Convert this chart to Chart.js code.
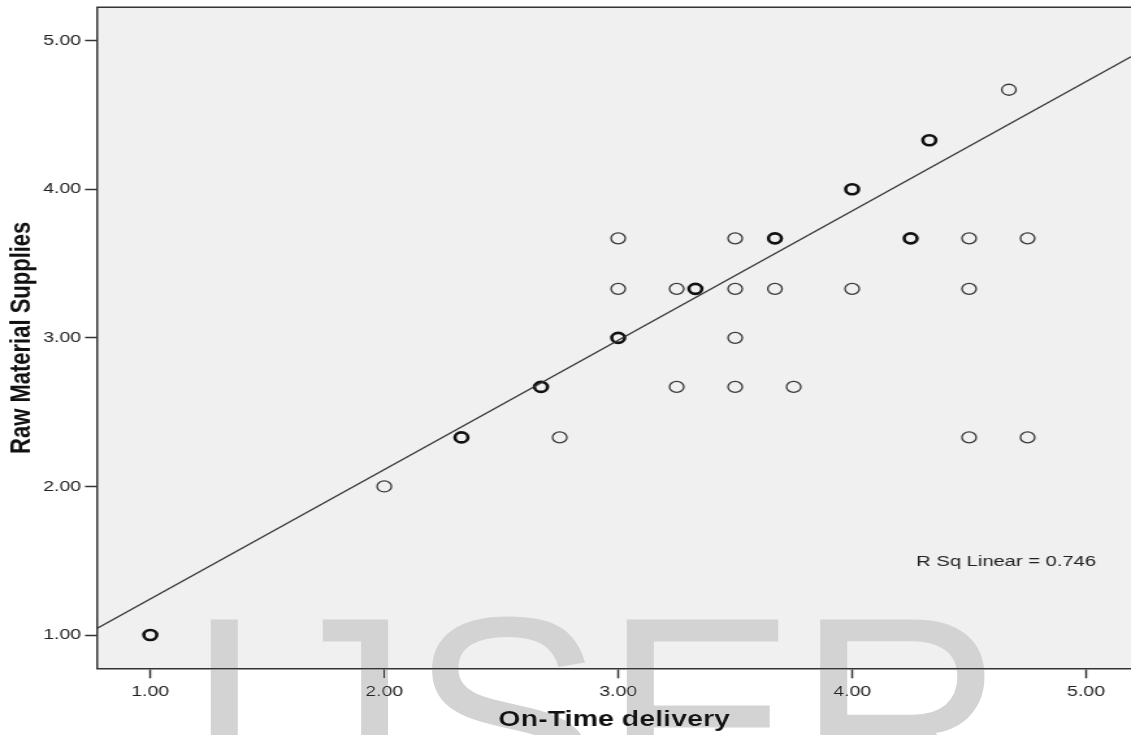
<!DOCTYPE html>
<html lang="en">
<head>
    <meta charset="UTF-8">
    <title>Raw Material Supplies vs On-Time delivery</title>
    <script src="https://cdn.jsdelivr.net/npm/chart.js"></script>
    <style>
        html, body { margin: 0; padding: 0; background: #fff; overflow: hidden; }
        body { width: 1131px; height: 735px; position: relative; }
        /* the source picture is stretched sideways, so the chart is drawn narrow and widened */
        #wrap { position: absolute; left: 0; top: 0; width: 870px; height: 735px;
                transform: scaleX(1.3); transform-origin: 0 0; }
        #watermark { position: absolute; left: 184px; top: 573px; font-family: "Liberation Sans", Arial, sans-serif;
                     font-size: 290px; line-height: 290px; color: #d3d3d3; white-space: nowrap;
                     mix-blend-mode: darken; pointer-events: none; }
    </style>
</head>
<body>
    <div id="wrap"><canvas id="scatter" width="870" height="735"></canvas></div>
    <div id="watermark">IJSER</div>

    <script>
        // points drawn once
        const singleX = [2.00, 2.75, 3.00, 3.00, 3.25, 3.25, 3.50, 3.50, 3.50, 3.50, 3.67, 3.75, 4.00, 4.50, 4.50, 4.50, 4.67, 4.75, 4.75];
        const singleY = [2.00, 2.33, 3.33, 3.67, 3.33, 2.67, 3.67, 3.33, 3.00, 2.67, 3.33, 2.67, 3.33, 3.67, 3.33, 2.33, 4.67, 3.67, 2.33];
        // overlapping cases (drawn heavier)
        const multiX = [1.00, 2.33, 2.67, 3.00, 3.33, 3.67, 4.00, 4.25, 4.33];
        const multiY = [1.00, 2.33, 2.67, 3.00, 3.33, 3.67, 4.00, 3.67, 4.33];
        // fit line end points
        const fitX = [0.7735, 5.192];
        const fitY = [1.045, 4.892];
        const xTicks = [1, 2, 3, 4, 5];
        const yTicks = [1, 2, 3, 4, 5];
        const rSqLabel = 'R Sq Linear = 0.746';

        const toPoints = (xs, ys) => xs.map((x, i) => ({ x: x, y: ys[i] }));

        // no extra room for end labels, the plot runs to the edges
        const noPadding = scale => {
            scale.paddingTop = 0; scale.paddingBottom = 0;
            scale.paddingLeft = 0; scale.paddingRight = 0;
        };

        const plotFrame = {
            id: 'plotFrame',
            beforeDraw(chart) {
                const { ctx, chartArea: a } = chart;
                ctx.save();
                ctx.fillStyle = '#f0f0f0';
                ctx.fillRect(a.left, a.top, a.right - a.left, a.bottom - a.top);
                ctx.restore();
            },
            afterDraw(chart) {
                const { ctx, chartArea: a, scales } = chart;
                ctx.save();
                ctx.strokeStyle = '#333';
                ctx.lineWidth = 1.5;
                ctx.beginPath();
                ctx.moveTo(a.left - 0.75, a.top);
                ctx.lineTo(a.right, a.top);
                ctx.stroke();
                ctx.fillStyle = '#222';
                ctx.font = '15.5px "Liberation Sans", Arial, sans-serif';
                ctx.textAlign = 'left';
                ctx.textBaseline = 'middle';
                ctx.fillText(rSqLabel, scales.x.getPixelForValue(4.274), scales.y.getPixelForValue(1.491));
                ctx.restore();
            }
        };

        const tickFont = { family: '"Liberation Sans", Arial, sans-serif', size: 15 };
        const titleFont = { family: '"Liberation Sans", Arial, sans-serif', size: 22, weight: 'bold' };

        new Chart(document.getElementById('scatter'), {
            type: 'scatter',
            data: {
                datasets: [{
                    label: 'fit',
                    data: toPoints(fitX, fitY),
                    showLine: true,
                    borderColor: '#333',
                    borderWidth: 1.3,
                    pointRadius: 0
                }, {
                    label: 'single',
                    data: toPoints(singleX, singleY),
                    pointRadius: 5.5,
                    pointBorderWidth: 1.3,
                    borderColor: '#3a3a3a',
                    backgroundColor: 'rgba(0,0,0,0)'
                }, {
                    label: 'multiple',
                    data: toPoints(multiX, multiY),
                    pointRadius: 5,
                    pointBorderWidth: 2.6,
                    borderColor: '#111',
                    backgroundColor: 'rgba(0,0,0,0)'
                }]
            },
            options: {
                responsive: false,
                animation: false,
                devicePixelRatio: 1,
                layout: { padding: { top: 7.3, right: 0, bottom: 0, left: 0 }, autoPadding: false },
                plugins: { legend: { display: false }, tooltip: { enabled: false } },
                scales: {
                    x: {
                        type: 'linear',
                        min: 0.7735,
                        max: 5.192,
                        afterFit(scale) { scale.height = 66.7; noPadding(scale); },
                        afterBuildTicks(scale) { scale.ticks = xTicks.map(v => ({ value: v })); },
                        grid: { drawOnChartArea: false, drawTicks: true, tickLength: 10, tickWidth: 1.5, tickColor: '#333' },
                        border: { display: true, color: '#333', width: 1.5 },
                        ticks: { color: '#222', font: tickFont, padding: 5, callback: v => v.toFixed(2), maxRotation: 0 },
                        title: { display: true, text: 'On-Time delivery', color: '#111', font: titleFont, padding: { top: 0, bottom: 1.8 } }
                    },
                    y: {
                        type: 'linear',
                        min: 0.776,
                        max: 5.225,
                        afterFit(scale) { scale.width = 74.85; noPadding(scale); },
                        afterBuildTicks(scale) { scale.ticks = yTicks.map(v => ({ value: v })); },
                        grid: { drawOnChartArea: false, drawTicks: true, tickLength: 9.4, tickWidth: 1.5, tickColor: '#333' },
                        border: { display: true, color: '#333', width: 1.5 },
                        ticks: { color: '#222', font: tickFont, padding: 3, callback: v => v.toFixed(2) },
                        title: { display: true, text: 'Raw Material Supplies', color: '#111', font: titleFont, padding: { top: 3.7, bottom: 0 } }
                    }
                }
            },
            plugins: [plotFrame]
        });
    </script>
</body>
</html>
